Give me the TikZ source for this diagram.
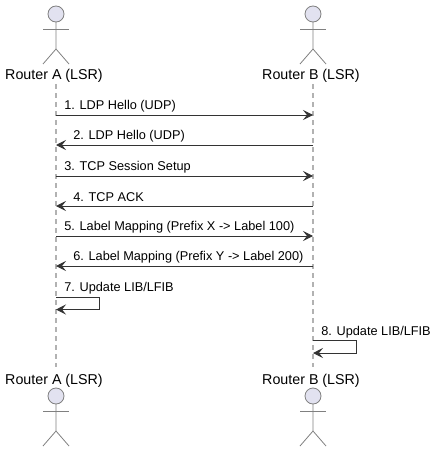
\documentclass[tikz,border=0pt]{standalone}
\usepackage{fontspec}
\setmainfont{Liberation Sans}
\usetikzlibrary{arrows.meta}

\definecolor{headblue}{RGB}{226,226,240}

\tikzset{
  actorline/.style={draw=black!50, line width=0.6pt},
  lifeline/.style={draw=black!30, line width=1pt, dash pattern=on 3.75pt off 3pt},
  msg/.style={draw=black!80, line width=0.75pt, -{Stealth[length=7.5pt, width=7.5pt, inset=3pt]}},
  msgtext/.style={anchor=west, inner sep=0pt, font=\fontsize{9.55pt}{11pt}\selectfont},
  actortext/.style={inner sep=0pt, font=\fontsize{10.7pt}{12pt}\selectfont},
}

\begin{document}
\begin{tikzpicture}[x=0.75pt, y=-0.75pt]
  \useasboundingbox (0, 0) rectangle (437, 453);
  % lifelines
  \coordinate (atop) at (56, 84);
  \coordinate (abot) at (56, 367);
  \coordinate (btop) at (313, 84);
  \coordinate (bbot) at (313, 367);
  \draw[lifeline] (atop) -- (abot);
  \draw[lifeline] (btop) -- (bbot);
  % actors
  \foreach \name/\txt/\x in {a/Router A (LSR)/54, b/Router B (LSR)/311} {
    \node[actortext] (\name label1) at (\x, 75.5) {\txt};
    \node[actortext] (\name label2) at (\x, 380.5) {\txt};
  }
  \foreach \x in {56, 313} {
    \foreach \y in {14, 396} {
      \draw[actorline, fill=headblue] (\x, \y) circle (8);
      \draw[actorline] (\x, \y+8) -- (\x, \y+35) -- (\x-13, \y+50);
      \draw[actorline] (\x, \y+35) -- (\x+13, \y+50);
      \draw[actorline] (\x-13, \y+15) -- (\x+13, \y+15);
    }
  }
  % messages
  \foreach \i/\y/\txt in {1/115/1. LDP Hello (UDP), 3/176/3. TCP Session Setup,
      5/236/5. Label Mapping (Prefix X -> Label 100)} {
    \coordinate (a\i) at (56, \y);
    \coordinate (b\i) at (313, \y);
    \draw[msg] (a\i) -- (b\i);
    \node[msgtext] (m\i) at (64, \y-8.5) {\txt};
  }
  \foreach \i/\y/\txt in {2/145/2. LDP Hello (UDP), 4/206/4. TCP ACK,
      6/266/6. Label Mapping (Prefix Y -> Label 200)} {
    \coordinate (a\i) at (56, \y);
    \coordinate (b\i) at (313, \y);
    \draw[msg] (b\i) -- (a\i);
    \node[msgtext] (m\i) at (73, \y-8.5) {\txt};
  }
  % self messages
  \coordinate (a7) at (56, 297);
  \coordinate (c7) at (56, 309.5);
  \draw[msg] (a7) -- (99, 297) -- (99, 309.5) -- (c7);
  \node[msgtext] (m7) at (64, 288) {7. Update LIB/LFIB};
  \coordinate (b8) at (313, 340);
  \coordinate (c8) at (313, 353);
  \draw[msg] (b8) -- (356, 340) -- (356, 353) -- (c8);
  \node[msgtext] (m8) at (321, 332) {8. Update LIB/LFIB};
\end{tikzpicture}
\end{document}
